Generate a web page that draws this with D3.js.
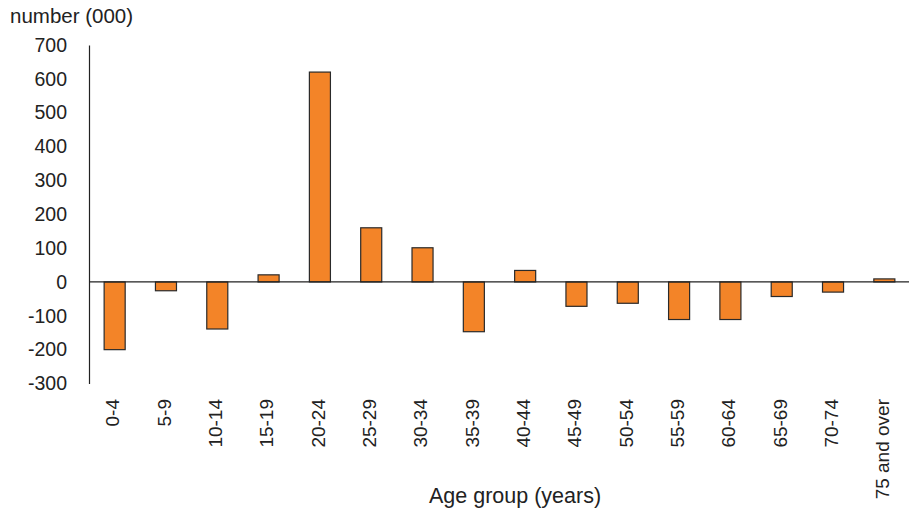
<!DOCTYPE html>
<html>
<head>
<meta charset="utf-8">
<script src="https://cdn.jsdelivr.net/npm/d3@7"></script>
<style>
  html, body { margin: 0; padding: 0; background: #fff; }
  svg { display: block; font-family: "Liberation Sans", Arial, sans-serif; }
</style>
</head>
<body>
<svg id="chart" width="909" height="510"></svg>
<script>
const categories = ["0-4","5-9","10-14","15-19","20-24","25-29","30-34","35-39","40-44","45-49","50-54","55-59","60-64","65-69","70-74","75 and over"];
const values = [-200, -26, -139, 21, 620, 160, 101, -147, 34, -72, -63, -111, -111, -43, -30, 9];
const yTicks = [-300, -200, -100, 0, 100, 200, 300, 400, 500, 600, 700];
const yTitle = "number (000)";
const xTitle = "Age group (years)";

const svg = d3.select("#chart");
const mLeft = 89, mRight = 910, mTop = 45, mBottom = 383.5;

const x = d3.scaleBand().domain(categories).range([mLeft, mRight]).paddingInner(0.59).paddingOuter(0.295);
const y = d3.scaleLinear().domain([-300, 700]).range([mBottom, mTop]);

// bars
svg.append("g").selectAll("rect").data(values).join("rect")
  .attr("x", (d, i) => x(categories[i]))
  .attr("width", x.bandwidth())
  .attr("y", d => y(Math.max(0, d)))
  .attr("height", d => Math.abs(y(d) - y(0)))
  .attr("fill", "#f38428")
  .attr("stroke", "#2a2a2a")
  .attr("stroke-width", 1.2);

// y axis
const yAxis = svg.append("g").attr("transform", `translate(${mLeft},0)`)
  .call(d3.axisLeft(y).tickValues(yTicks).tickSize(0).tickPadding(22).tickFormat(d => String(d)));
yAxis.select(".domain").attr("stroke", "#222").attr("stroke-width", 1.2);
yAxis.selectAll("text").attr("font-size", 19.5).attr("fill", "#222")
  .attr("font-family", "'Liberation Sans', Arial, sans-serif");

// zero line
svg.append("line")
  .attr("x1", mLeft).attr("x2", 909)
  .attr("y1", y(0)).attr("y2", y(0))
  .attr("stroke", "#222").attr("stroke-width", 1.2);

// x labels
const xAxis = svg.append("g").attr("transform", `translate(0,${mBottom})`)
  .call(d3.axisBottom(x).tickSize(0).tickPadding(0));
xAxis.select(".domain").remove();
xAxis.selectAll("text")
  .attr("font-size", 19)
  .attr("fill", "#222")
  .attr("font-family", "'Liberation Sans', Arial, sans-serif")
  .attr("text-anchor", "end")
  .attr("transform", "rotate(-90)")
  .attr("x", -15.5)
  .attr("y", 0)
  .attr("dy", "0.33em")
  .attr("dx", 0);
xAxis.selectAll(".tick").attr("transform", d => `translate(${x(d) + x.bandwidth()/2 - 1.5},0)`);

// titles
svg.append("text").attr("x", 10).attr("y", 22.5)
  .attr("font-size", 20.5).attr("fill", "#222").text(yTitle);
svg.append("text").attr("x", 515).attr("y", 503)
  .attr("text-anchor", "middle")
  .attr("font-size", 21.5).attr("fill", "#222").text(xTitle);
</script>
</body>
</html>
